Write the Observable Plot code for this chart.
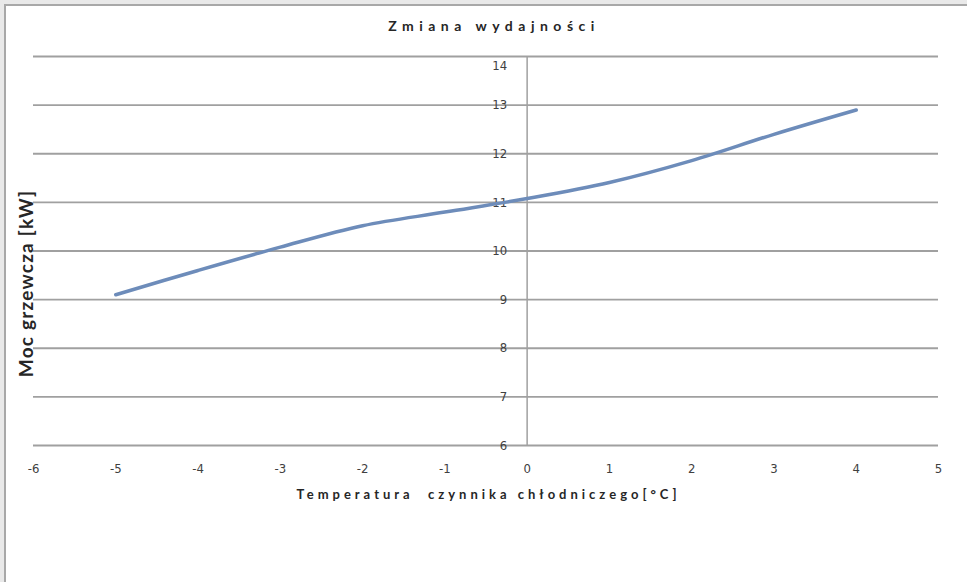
<!DOCTYPE html>
<html>
<head>
<meta charset="utf-8">
<script src="https://cdn.jsdelivr.net/npm/d3@7"></script>
<script src="https://cdn.jsdelivr.net/npm/@observablehq/plot@0.6"></script>
<style>
  html, body { margin: 0; padding: 0; background: #e9e9e9; width: 967px; height: 582px; overflow: hidden; }
  #frame { position: absolute; left: 4px; top: 4px; border-left: 2px solid #a8a8a8; border-top: 2px solid #a8a8a8; background: #ffffff; width: 961px; height: 576px; }
  #frame svg { display: block; }
</style>
</head>
<body>
<div id="frame"></div>
<script>
const temperature = [-5, -4, -3, -2, -1, 0, 1, 2, 3, 4];
const power = [9.1, 9.6, 10.08, 10.52, 10.8, 11.08, 11.41, 11.86, 12.4, 12.9];
const xTicks = [-6, -5, -4, -3, -2, -1, 0, 1, 2, 3, 4, 5];
const yTicks = [6, 7, 8, 9, 10, 11, 12, 13, 14];
const chartTitle = "Zmiana wydajności";
const xTitle = "Temperatura  czynnika chłodniczego[°C]";
const yTitle = "Moc grzewcza [kW]";

const data = temperature.map((t, i) => ({t, p: power[i]}));
const tickFont = "'Liberation Sans Narrow', 'DejaVu Sans Condensed', 'Roboto Condensed', sans-serif";
const titleFont = "'Lato', 'Open Sans', 'DejaVu Sans', sans-serif";
const yMax = d3.max(yTicks);

const chart = Plot.plot({
  width: 961,
  height: 576,
  marginLeft: 27,
  marginRight: 29,
  marginTop: 50,
  marginBottom: 137,
  style: {background: "white", overflow: "visible"},
  x: {domain: [-6, 5], axis: null},
  y: {domain: [6, 14], axis: null},
  marks: [
    Plot.ruleY(yTicks, {stroke: "#a0a0a0", strokeWidth: 1.8}),
    Plot.ruleX([0], {y1: 6, y2: 14, stroke: "#a0a0a0", strokeWidth: 1.5}),
    Plot.text(yTicks.filter(d => d < yMax), {x: 0, y: d => d, text: d => String(d), dx: -20, textAnchor: "end", fontSize: 13, fill: "#404040", fontFamily: tickFont}),
    Plot.text(yTicks.filter(d => d === yMax), {x: 0, y: d => d, text: d => String(d), dx: -20, dy: 9, textAnchor: "end", fontSize: 13, fill: "#404040", fontFamily: tickFont}),
    Plot.axisX(xTicks, {tickSize: 0, tickPadding: 18, fontSize: 13, fill: "#404040", fontFamily: tickFont, label: null, tickFormat: d => String(d)}),
    Plot.line(data, {x: "t", y: "p", stroke: "#6d8cba", strokeWidth: 3.5, curve: "catmull-rom", strokeLinecap: "round"}),
    Plot.text([chartTitle], {frameAnchor: "top", dy: -35, dx: 8, fontSize: 14, fontWeight: "bold", fill: "#262626", fontFamily: titleFont}),
    Plot.text([xTitle], {frameAnchor: "bottom", dy: 53, dx: 2.5, fontSize: 13, fontWeight: "bold", fill: "#262626", fontFamily: titleFont}),
    Plot.text([yTitle], {frameAnchor: "left", textAnchor: "middle", dx: -7, dy: 32.5, rotate: -90, fontSize: 19, fontWeight: "bold", fill: "#262626", fontFamily: titleFont})
  ]
});

d3.select(chart).selectAll("text").filter(function() { return this.textContent === chartTitle; })
  .style("letter-spacing", "5.5px");
d3.select(chart).selectAll("text").filter(function() { return this.textContent === xTitle; })
  .style("letter-spacing", "4px").style("white-space", "pre");
d3.select(chart).selectAll("text").filter(function() { return this.textContent === yTitle; })
  .style("letter-spacing", "1.2px");

document.getElementById("frame").appendChild(chart);
</script>
</body>
</html>
